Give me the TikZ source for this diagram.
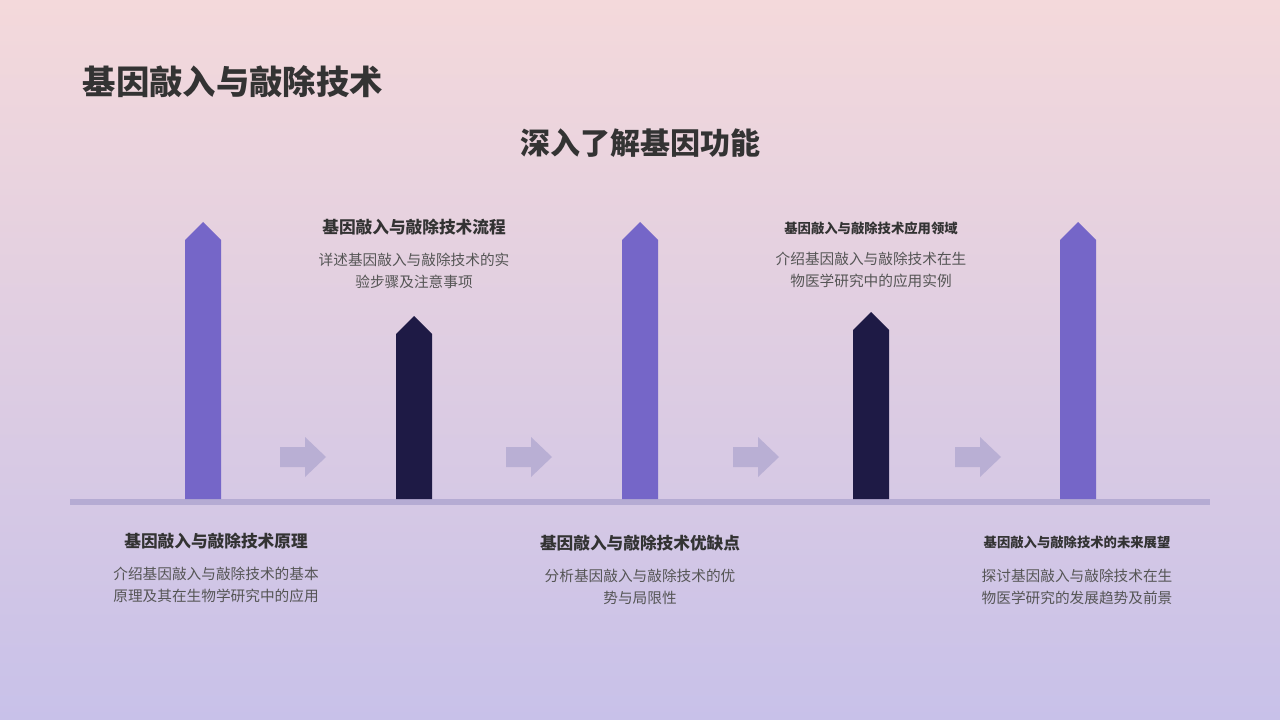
\documentclass[tikz,border=0pt]{standalone}
\usepackage{fontspec}
\setmainfont{Noto Sans CJK SC}
\definecolor{barA}{HTML}{7566C8}
\definecolor{barB}{HTML}{1E1A45}
\definecolor{arr}{HTML}{B9AFD4}
\definecolor{base}{HTML}{B5ABD3}
\definecolor{txt}{HTML}{333333}
\definecolor{desc}{HTML}{555555}
\definecolor{bgtop}{HTML}{F4D9DB}
\definecolor{bgbot}{HTML}{C8C1E9}
\tikzset{
 bar/.style={fill=#1,draw=none},
 chev/.style={fill=arr,draw=none},
 head/.style={font=\bfseries\fontsize{12.5}{15}\selectfont,text=txt,anchor=center},
 heads/.style={font=\bfseries\fontsize{10}{12}\selectfont,text=txt,anchor=center},
 body/.style={font=\fontsize{11}{17}\selectfont,text=desc,align=center,anchor=north}
}
\begin{document}
\begin{tikzpicture}[x=0.75pt,y=-0.75pt]
\shade[top color=bgtop,bottom color=bgbot] (0,0) rectangle (1280,720);
\useasboundingbox (0,0) rectangle (1280,720);
\fill[base] (70,499) rectangle (1210,505);
\foreach \x/\t/\c in {185/222/barA,396/316/barB,622/222/barA,853/312/barB,1060/222/barA}{
 \fill[bar=\c] (\x,499) -- (\x,\t+18) -- (\x+18,\t) -- (\x+36,\t+18) -- (\x+36,499) -- cycle;
}
\foreach \x in {280,506,733,955}{
 \fill[chev] (\x,447) -- (\x+25,447) -- (\x+25,437) -- (\x+46,457) -- (\x+25,477) -- (\x+25,467) -- (\x,467) -- cycle;
}
\node[anchor=west,font=\bfseries\fontsize{25}{30}\selectfont,text=txt] (title) at (78,82) {基因敲入与敲除技术};
\node[font=\bfseries\fontsize{22.5}{27}\selectfont,text=txt] (sub) at (640,143) {深入了解基因功能};
\node[head] (h1) at (414,227) {基因敲入与敲除技术流程};
\node[body] (d1) at (414,248) {详述基因敲入与敲除技术的实\\验步骤及注意事项};
\node[heads] (h2) at (871,228) {基因敲入与敲除技术应用领域};
\node[body] (d2) at (871,247) {介绍基因敲入与敲除技术在生\\物医学研究中的应用实例};
\node[head] (h3) at (216,541) {基因敲入与敲除技术原理};
\node[body] (d3) at (216,562) {介绍基因敲入与敲除技术的基本\\原理及其在生物学研究中的应用};
\node[head] (h4) at (640,543) {基因敲入与敲除技术优缺点};
\node[body] (d4) at (640,564) {分析基因敲入与敲除技术的优\\势与局限性};
\node[heads] (h5) at (1077,542) {基因敲入与敲除技术的未来展望};
\node[body] (d5) at (1077,564) {探讨基因敲入与敲除技术在生\\物医学研究的发展趋势及前景};
\end{tikzpicture}
\end{document}
